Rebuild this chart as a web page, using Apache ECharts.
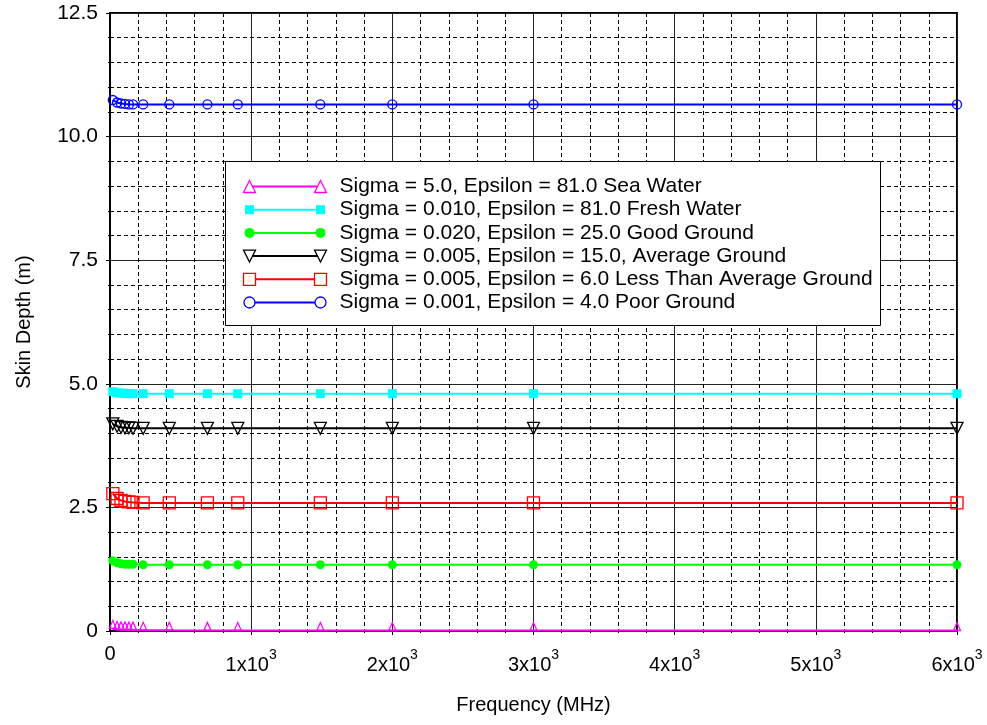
<!DOCTYPE html>
<html><head><meta charset="utf-8">
<script src="https://cdn.jsdelivr.net/npm/echarts@6/dist/echarts.min.js"></script>
<style>html,body{margin:0;padding:0;background:#fff}#c{width:987px;height:725px}</style>
</head><body><div id="c"></div>
<script>
// ---- data ----
const frequencyMHz   = [20, 50, 78, 106, 134, 163, 235, 420, 690, 905, 1490, 2000, 3000, 6000];
const seaWater       = [0.05, 0.03, 0.025, 0.022, 0.02, 0.018, 0.016, 0.014, 0.012, 0.011, 0.01, 0.01, 0.01, 0.01];
const freshWater     = [4.84, 4.82, 4.81, 4.81, 4.80, 4.80, 4.80, 4.80, 4.80, 4.80, 4.80, 4.80, 4.80, 4.80];
const goodGround     = [1.42, 1.38, 1.36, 1.35, 1.35, 1.35, 1.34, 1.34, 1.34, 1.34, 1.34, 1.34, 1.34, 1.34];
const averageGround  = [4.19, 4.14, 4.12, 4.11, 4.11, 4.10, 4.10, 4.10, 4.10, 4.10, 4.10, 4.10, 4.10, 4.10];
const lessAvgGround  = [2.78, 2.68, 2.64, 2.62, 2.61, 2.60, 2.59, 2.59, 2.59, 2.59, 2.59, 2.59, 2.59, 2.59];
const poorGround     = [10.74, 10.69, 10.67, 10.66, 10.65, 10.65, 10.65, 10.65, 10.65, 10.65, 10.65, 10.65, 10.65, 10.65];

const seriesNames = [
  'Sigma = 5.0, Epsilon = 81.0 Sea Water',
  'Sigma = 0.010, Epsilon = 81.0 Fresh Water',
  'Sigma = 0.020, Epsilon = 25.0 Good Ground',
  'Sigma = 0.005, Epsilon = 15.0, Average Ground',
  'Sigma = 0.005, Epsilon = 6.0 Less Than Average Ground',
  'Sigma = 0.001, Epsilon = 4.0 Poor Ground'
];
const seriesValues = [seaWater, freshWater, goodGround, averageGround, lessAvgGround, poorGround];

const xTickBase = ['0', '1x10', '2x10', '3x10', '4x10', '5x10', '6x10'];
const xTickExp  = ['', '3', '3', '3', '3', '3', '3'];
const yTickLabels = ['0', '2.5', '5.0', '7.5', '10.0', '12.5'];

// ---- styles ----
const FONT = "'Liberation Sans', Arial, sans-serif";
const styles = [
  {color: '#FF00FF', symbol: 'triangle', size: [7, 8], offset: [0, -4], legendSize: 12, hollow: true, rotate: 0},
  {color: '#00FFFF', symbol: 'rect', size: 9, legendSize: 9, hollow: false, rotate: 0},
  {color: '#00FF00', symbol: 'circle', size: 9, legendSize: 10, hollow: false, rotate: 0},
  {color: '#000000', symbol: 'triangle', size: 12, legendSize: 12, hollow: true, rotate: 180},
  {color: '#FF0000', symbol: 'rect', size: 12, legendSize: 12, hollow: true, rotate: 0},
  {color: '#0000FF', symbol: 'circle', size: 9, legendSize: 11, hollow: true, rotate: 0}
];

const series = seriesValues.map((vals, i) => {
  const st = styles[i];
  return {
    name: seriesNames[i],
    type: 'line',
    data: frequencyMHz.map((f, j) => [f, vals[j]]),
    showAllSymbol: true,
    symbol: st.symbol,
    symbolSize: st.size,
    symbolRotate: st.rotate,
    symbolOffset: st.offset || [0, 0],
    clip: false,
    lineStyle: {color: st.color, width: 2},
    itemStyle: {
      color: st.hollow ? 'rgba(0,0,0,0)' : st.color,
      borderColor: st.color,
      borderWidth: st.hollow ? 1.3 : 0
    },
    emphasis: {disabled: true},
    z: 3
  };
});

// ---- legend (drawn as graphic so the symbol sits at both ends of the line) ----
const LX = 225, LY = 161, LW = 655, LH = 164, rowTop = 25, rowStep = 23.2;
const ZL = 100;
const legendChildren = [{
  type: 'rect', z: ZL, shape: {x: 0, y: 0, width: LW, height: LH},
  style: {fill: '#ffffff', stroke: '#000', lineWidth: 1}
}];
function legendSymbol(st, cx, cy) {
  const s = st.legendSize, h = s / 2;
  const style = {fill: st.hollow ? '#ffffff' : st.color, stroke: st.color, lineWidth: st.hollow ? 1.3 : 0};
  if (st.symbol === 'circle') return {type: 'circle', z: ZL + 2, shape: {cx: cx, cy: cy, r: h}, style: style};
  if (st.symbol === 'rect') return {type: 'rect', z: ZL + 2, shape: {x: cx - h, y: cy - h, width: s, height: s}, style: style};
  const pts = st.rotate === 180
    ? [[cx - h, cy - h], [cx + h, cy - h], [cx, cy + h]]
    : [[cx, cy - h], [cx + h, cy + h], [cx - h, cy + h]];
  return {type: 'polygon', z: ZL + 2, shape: {points: pts}, style: style};
}
seriesNames.forEach((name, i) => {
  const st = styles[i];
  const cy = rowTop + i * rowStep;
  legendChildren.push({type: 'line', z: ZL + 1, shape: {x1: 24, y1: cy, x2: 95, y2: cy}, style: {stroke: st.color, lineWidth: 2}});
  legendChildren.push(legendSymbol(st, 24, cy));
  legendChildren.push(legendSymbol(st, 95, cy));
  legendChildren.push({type: 'text', z: ZL + 1, x: 114, y: cy,
    style: {text: name, fill: '#000', font: '21px ' + FONT, textVerticalAlign: 'middle', textAlign: 'left'}});
});

const chart = echarts.init(document.getElementById('c'), null, {renderer: 'canvas'});
chart.setOption({
  animation: false,
  backgroundColor: '#fff',
  textStyle: {fontFamily: FONT},
  grid: {left: 110, right: 30, top: 13, bottom: 94, show: true, borderColor: '#000', borderWidth: 2, backgroundColor: 'transparent'},
  xAxis: {
    type: 'value', min: 0, max: 6000, interval: 1000,
    name: 'Frequency (MHz)', nameLocation: 'middle', nameGap: 64,
    nameTextStyle: {fontSize: 20, color: '#000', fontFamily: FONT},
    axisLine: {show: true, lineStyle: {color: '#000', width: 2}},
    axisTick: {show: true, length: 4, lineStyle: {color: '#000', width: 1}},
    minorTick: {show: true, splitNumber: 5, length: 2, lineStyle: {color: '#000', width: 1}},
    splitLine: {show: true, lineStyle: {color: '#222', width: 1}},
    minorSplitLine: {show: true, lineStyle: {color: '#000', width: 1, type: [4, 3]}},
    axisLabel: {
      margin: 13, color: '#000', fontFamily: FONT,
      formatter: function (v) {
        const k = Math.round(v / 1000);
        if (!xTickExp[k]) return '{z|' + xTickBase[k] + '}';
        return '{m|' + xTickBase[k] + '}{s|' + xTickExp[k] + '}';
      },
      rich: {
        z: {fontSize: 20, lineHeight: 28, verticalAlign: 'top', color: '#000', fontFamily: FONT},
        m: {fontSize: 20, lineHeight: 31, verticalAlign: 'bottom', color: '#000', fontFamily: FONT},
        s: {fontSize: 14, lineHeight: 28, verticalAlign: 'top', padding: [4, 0, 0, 0], color: '#000', fontFamily: FONT}
      }
    }
  },
  yAxis: {
    type: 'value', min: 0, max: 12.5, interval: 2.5,
    name: 'Skin Depth (m)', nameLocation: 'middle', nameGap: 76,
    nameTextStyle: {fontSize: 20, color: '#000', fontFamily: FONT},
    axisLine: {show: true, lineStyle: {color: '#000', width: 2}},
    axisTick: {show: true, length: 4, lineStyle: {color: '#000', width: 1}},
    minorTick: {show: true, splitNumber: 5, length: 2, lineStyle: {color: '#000', width: 1}},
    splitLine: {show: true, lineStyle: {color: '#222', width: 1}},
    minorSplitLine: {show: true, lineStyle: {color: '#000', width: 1, type: [4, 3]}},
    axisLabel: {
      margin: 12, fontSize: 21, color: '#000', fontFamily: FONT,
      formatter: function (v) { return yTickLabels[Math.round(v / 2.5)]; }
    }
  },
  series: series,
  graphic: [{type: 'group', left: LX, top: LY, z: ZL, children: legendChildren}]
});
</script>
</body></html>
